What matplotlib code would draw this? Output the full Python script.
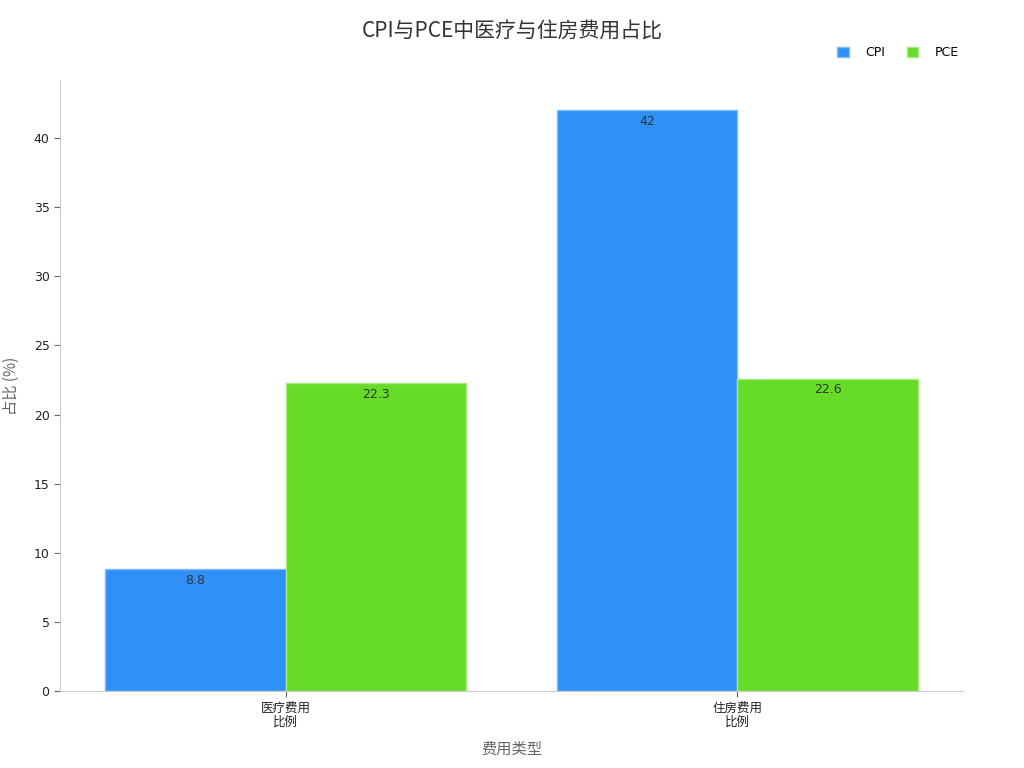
import matplotlib
matplotlib.use("Agg")
import matplotlib.pyplot as plt
import numpy as np

plt.rcParams['font.family'] = ['DejaVu Sans', 'Noto Sans CJK SC']

categories = ["医疗费用\n比例", "住房费用\n比例"]
series_names = ["CPI", "PCE"]
cpi_values = [8.8, 42]
pce_values = [22.3, 22.6]
colors = ["#2F91F8", "#66DC28"]
edge_colors = ["#7FBBFA", "#A5EB80"]

fig = plt.figure(figsize=(10.24, 7.68), dpi=100)
ax = fig.add_axes([60/1024, 1 - 691/768, 903/1024, 611/768])

x = np.arange(len(categories))
w = 0.4
for i, (vals, name) in enumerate(zip([cpi_values, pce_values], series_names)):
    pos = x - w/2 + i*w
    bars = ax.bar(pos, vals, width=w, color=colors[i], edgecolor=edge_colors[i],
                  linewidth=1, label=name)
    for b, v in zip(bars, vals):
        ax.text(b.get_x() + b.get_width()/2, v - 0.35, f"{v:g}", ha='center', va='top',
                fontsize=9, color='#333333')

ax.set_xlim(-0.5, 1.5)
ax.set_ylim(0, 44.2)
ax.set_xticks(x)
ax.set_xticklabels(categories, fontsize=9, color='#222222', linespacing=1.1,
                   family=['Noto Sans CJK SC', 'DejaVu Sans'])
ax.set_yticks(np.arange(0, 45, 5))
ax.tick_params(axis='y', labelsize=9, colors='#222222', length=4, color='#666666')
ax.tick_params(axis='x', length=4, color='#666666')
for s in ['top', 'right']:
    ax.spines[s].set_visible(False)
for s in ['left', 'bottom']:
    ax.spines[s].set_color('#cccccc')
ax.set_xlabel("费用类型", fontsize=11, color='#666666', labelpad=9,
              family=['Noto Sans CJK SC', 'DejaVu Sans'])
ax.set_ylabel("占比 (%)", fontsize=11, color='#666666', labelpad=10,
              family=['Noto Sans CJK SC', 'DejaVu Sans'])

fig.text(0.5, 1 - 32/768, "CPI与PCE中医疗与住房费用占比", ha='center', va='center',
         fontsize=15, color='#333333', family=['Noto Sans CJK SC', 'DejaVu Sans'])
fig.legend(loc='center right', bbox_to_anchor=(970/1024, 1 - 53/768), ncol=2, frameon=False,
           fontsize=9, handlelength=0.9, handleheight=0.9, columnspacing=1.8, handletextpad=1.3)

fig.savefig("out.png", dpi=100)
